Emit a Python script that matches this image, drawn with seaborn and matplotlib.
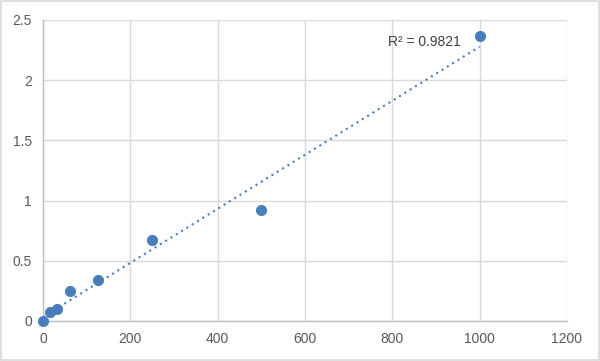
import numpy as np
import matplotlib
matplotlib.use("Agg")
import matplotlib.pyplot as plt
import seaborn as sns

conc = [0, 15.6, 31.25, 62.5, 125, 250, 500, 1000]
od = [0.0, 0.075, 0.10, 0.25, 0.34, 0.67, 0.92, 2.37]
x_ticks = [0, 200, 400, 600, 800, 1000, 1200]
y_ticks = [0, 0.5, 1, 1.5, 2, 2.5]

sns.set_style("white")
plt.rcParams['font.family'] = ['Liberation Sans', 'DejaVu Sans']

fig = plt.figure(figsize=(6, 3.61), dpi=100)
ax = fig.add_axes([43 / 600, 40 / 361, 524 / 600, 301 / 361])

# linear trendline
slope, inter = np.polyfit(conc, od, 1)
xs = np.array([0, 1000])
ax.plot(xs, slope * xs + inter, linestyle=(0, (1, 2)), color="#4a7ebb", lw=1.5, zorder=2)

sns.scatterplot(x=conc, y=od, ax=ax, color="#4a7ebb", s=55, edgecolor="#4a7ebb", zorder=3, clip_on=False)

ax.set_xlim(0, 1200)
ax.set_ylim(0, 2.5)
ax.set_xticks(x_ticks)
ax.set_yticks(y_ticks)
ax.set_xticklabels([str(t) for t in x_ticks])
ax.set_yticklabels(["0", "0.5", "1", "1.5", "2", "2.5"])
ax.grid(True, color="#d9d9d9", lw=1)
ax.set_axisbelow(True)
for s in ["top", "right"]:
    ax.spines[s].set_visible(False)
for s in ["left", "bottom"]:
    ax.spines[s].set_color("#bfbfbf")
    ax.spines[s].set_linewidth(1)
ax.tick_params(length=0, labelsize=10, labelcolor="#595959", pad=8)

ax.text(790, 2.28, "R² = 0.9821", fontsize=10, color="#404040")

fig.patches.append(plt.Rectangle((0.002, 0.003), 0.996, 0.994, transform=fig.transFigure,
                                 fill=False, edgecolor="#d9d9d9", lw=1.2))

fig.savefig("out.png", dpi=100)
